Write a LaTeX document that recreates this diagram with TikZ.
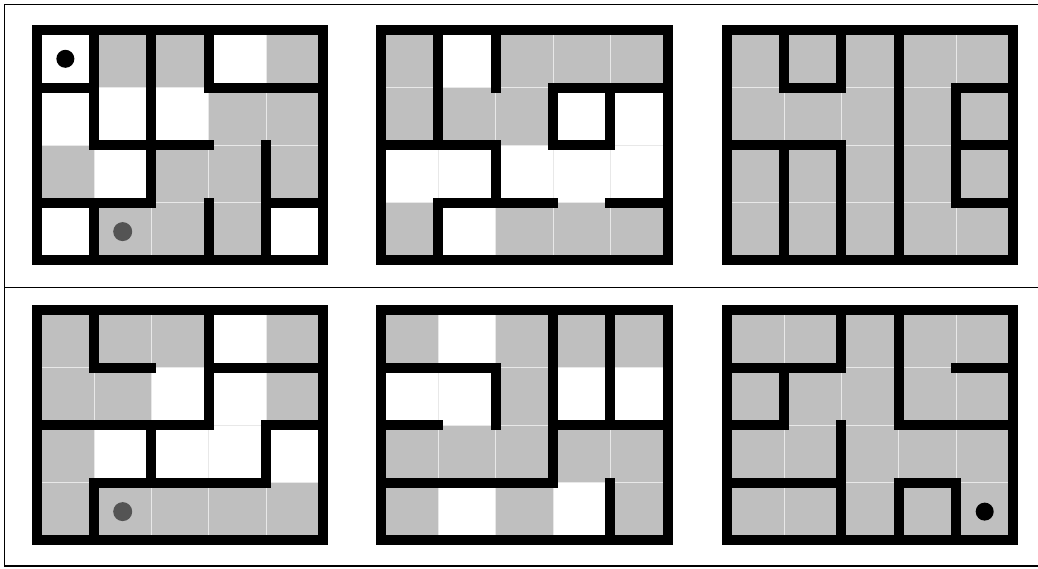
\documentclass[tikz,border=0pt]{standalone}
\begin{document}
\begin{tikzpicture}[x=1pt,y=-1pt,
  wall/.style={line width=10pt,line cap=rect,line join=miter,black},
  cellgrid/.style={line width=0.8pt,black!9},
  graycell/.style={fill=black!25},
  frameline/.style={line width=1.3pt,black},
  bdot/.style={circle,fill=black,inner sep=0pt,minimum size=18pt},
  gdot/.style={circle,fill=black!67,inner sep=0pt,minimum size=19pt},
  mz/.style={x=57.33pt,y=-57.6pt}]
\fill[white] (0,0) rectangle (1038,568);
\useasboundingbox (0,0) rectangle (1038,568);
% frame
\draw[frameline] (1045,4.5) -- (4.5,4.5) -- (4.5,566) -- (1045,566);
\draw[frameline] (4.5,287.5) -- (1045,287.5);
% ---------- maze A ----------
\begin{scope}[shift={(36.7,30)},mz]
  \foreach \c/\r in {1/0,2/0,4/0,3/1,4/1,0/2,2/2,3/2,4/2,1/3,2/3,3/3}
    \fill[graycell] (\c,\r) rectangle ++(1,1);
  \foreach \i in {1,...,4} \draw[cellgrid] (\i,0) -- (\i,4);
  \foreach \j in {1,2,3} \draw[cellgrid] (0,\j) -- (5,\j);
  \node[bdot] (a1) at (0.5,0.5) {};
  \node[gdot] (a2) at (1.5,3.5) {};
  \draw[wall] (0,0) rectangle (5,4);
  \draw[wall] (1,0) -- (1,2);
  \draw[wall] (0,1) -- (1,1);
  \draw[wall] (0,3) -- (2,3) -- (2,0);
  \draw[wall] (3,0) -- (3,1) -- (5,1);
  \draw[wall] (1,2) -- (3,2);
  \draw[wall] (4,2) -- (4,4);
  \draw[wall] (4,3) -- (5,3);
  \draw[wall] (3,3) -- (3,4);
  \draw[wall] (1,3) -- (1,4);
\end{scope}
% ---------- maze B ----------
\begin{scope}[shift={(381,30)},mz]
  \foreach \c/\r in {0/0,2/0,3/0,4/0,0/1,1/1,2/1,0/3,2/3,3/3,4/3}
    \fill[graycell] (\c,\r) rectangle ++(1,1);
  \foreach \i in {1,...,4} \draw[cellgrid] (\i,0) -- (\i,4);
  \foreach \j in {1,2,3} \draw[cellgrid] (0,\j) -- (5,\j);
  \draw[wall] (0,0) rectangle (5,4);
  \draw[wall] (1,0) -- (1,2);
  \draw[wall] (2,0) -- (2,1);
  \draw[wall] (5,1) -- (3,1) -- (3,2) -- (4,2) -- (4,1);
  \draw[wall] (0,2) -- (2,2) -- (2,3);
  \draw[wall] (1,4) -- (1,3) -- (3,3);
  \draw[wall] (4,3) -- (5,3);
\end{scope}
% ---------- maze C ----------
\begin{scope}[shift={(726.7,30)},mz]
  \fill[graycell] (0,0) rectangle (5,4);
  \foreach \i in {1,...,4} \draw[cellgrid] (\i,0) -- (\i,4);
  \foreach \j in {1,2,3} \draw[cellgrid] (0,\j) -- (5,\j);
  \draw[wall] (0,0) rectangle (5,4);
  \draw[wall] (1,0) -- (1,1) -- (2,1) -- (2,0);
  \draw[wall] (3,0) -- (3,4);
  \draw[wall] (5,1) -- (4,1) -- (4,3) -- (5,3);
  \draw[wall] (4,2) -- (5,2);
  \draw[wall] (1,4) -- (1,2);
  \draw[wall] (0,2) -- (2,2) -- (2,4);
\end{scope}
% ---------- maze D ----------
\begin{scope}[shift={(36.7,310)},mz]
  \foreach \c/\r in {0/0,1/0,2/0,4/0,0/1,1/1,4/1,0/2,0/3,1/3,2/3,3/3,4/3}
    \fill[graycell] (\c,\r) rectangle ++(1,1);
  \foreach \i in {1,...,4} \draw[cellgrid] (\i,0) -- (\i,4);
  \foreach \j in {1,2,3} \draw[cellgrid] (0,\j) -- (5,\j);
  \node[gdot] (d1) at (1.5,3.5) {};
  \draw[wall] (0,0) rectangle (5,4);
  \draw[wall] (1,0) -- (1,1) -- (2,1);
  \draw[wall] (3,0) -- (3,2);
  \draw[wall] (3,1) -- (5,1);
  \draw[wall] (0,2) -- (3,2);
  \draw[wall] (2,2) -- (2,3);
  \draw[wall] (1,4) -- (1,3) -- (4,3) -- (4,2) -- (5,2);
\end{scope}
% ---------- maze E ----------
\begin{scope}[shift={(381,310)},mz]
  \foreach \c/\r in {0/0,2/0,3/0,4/0,2/1,0/2,1/2,2/2,3/2,4/2,0/3,2/3,4/3}
    \fill[graycell] (\c,\r) rectangle ++(1,1);
  \foreach \i in {1,...,4} \draw[cellgrid] (\i,0) -- (\i,4);
  \foreach \j in {1,2,3} \draw[cellgrid] (0,\j) -- (5,\j);
  \draw[wall] (0,0) rectangle (5,4);
  \draw[wall] (0,1) -- (2,1) -- (2,2);
  \draw[wall] (0,2) -- (1,2);
  \draw[wall] (3,0) -- (3,3) -- (0,3);
  \draw[wall] (4,0) -- (4,2);
  \draw[wall] (3,2) -- (5,2);
  \draw[wall] (4,3) -- (4,4);
\end{scope}
% ---------- maze F ----------
\begin{scope}[shift={(726.7,310)},mz]
  \fill[graycell] (0,0) rectangle (5,4);
  \foreach \i in {1,...,4} \draw[cellgrid] (\i,0) -- (\i,4);
  \foreach \j in {1,2,3} \draw[cellgrid] (0,\j) -- (5,\j);
  \node[bdot] (f1) at (4.5,3.5) {};
  \draw[wall] (0,0) rectangle (5,4);
  \draw[wall] (2,0) -- (2,1) -- (0,1);
  \draw[wall] (1,1) -- (1,2) -- (0,2);
  \draw[wall] (3,0) -- (3,2) -- (5,2);
  \draw[wall] (4,1) -- (5,1);
  \draw[wall] (2,2) -- (2,4);
  \draw[wall] (0,3) -- (2,3);
  \draw[wall] (3,4) -- (3,3) -- (4,3) -- (4,4);
\end{scope}
\end{tikzpicture}
\end{document}
